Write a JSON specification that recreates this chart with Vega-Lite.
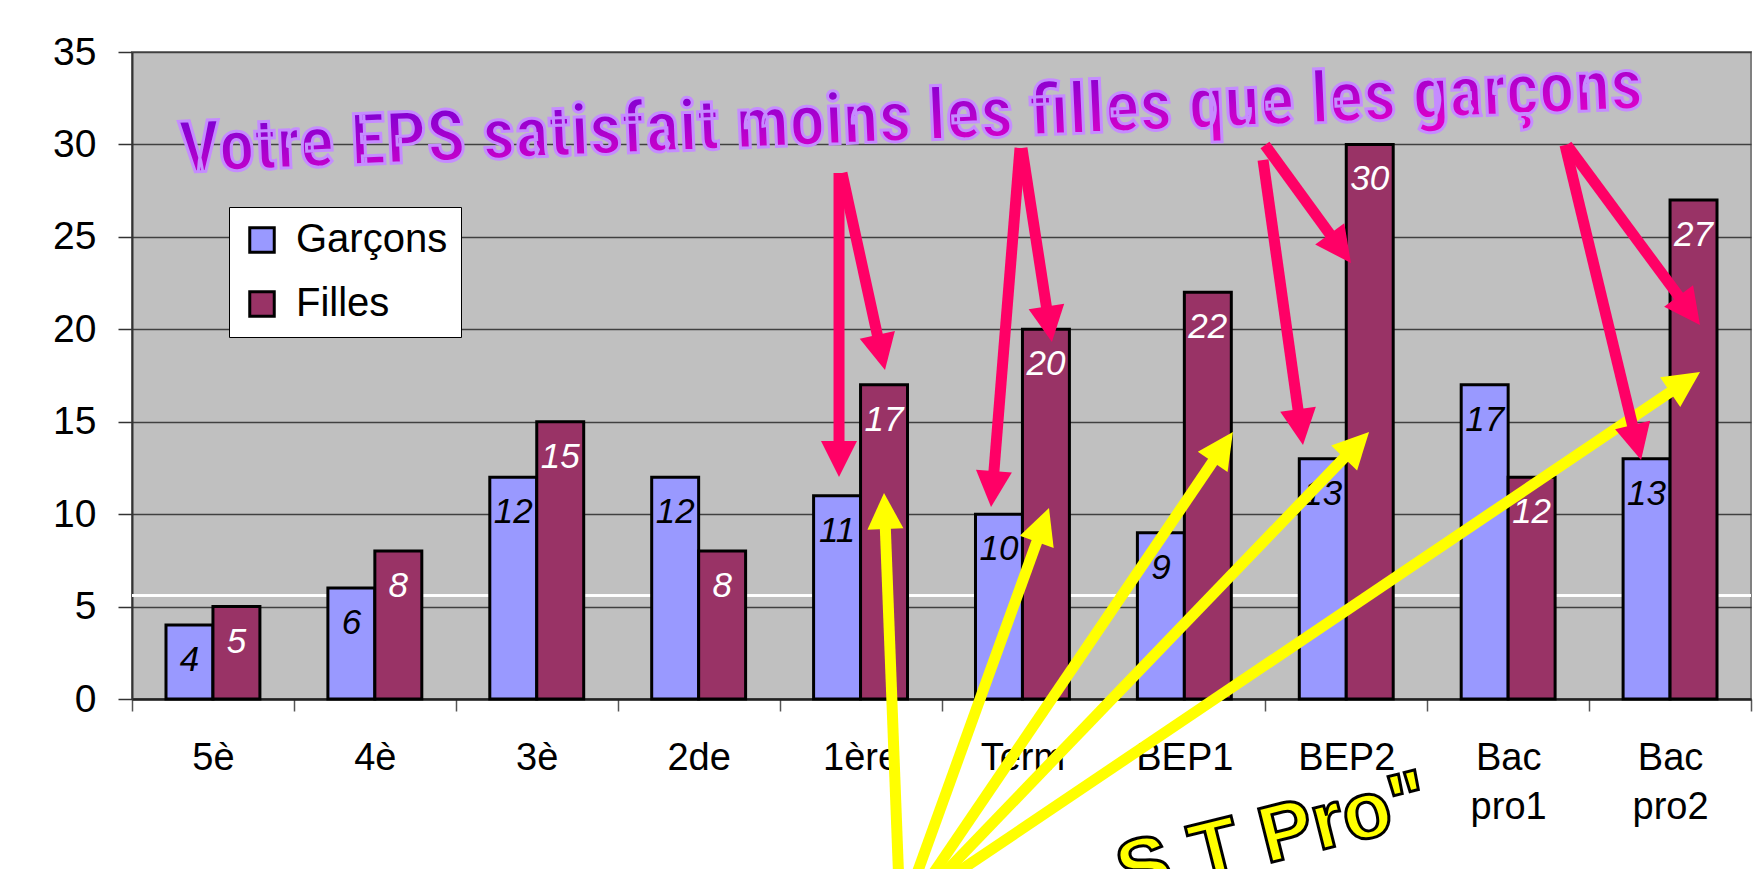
{
  "$schema": "https://vega.github.io/schema/vega-lite/v6.json",
  "width": 1619,
  "height": 647,
  "autosize": {"type": "none"},
  "padding": {"left": 132, "top": 52, "right": 7, "bottom": 170},
  "background": "#ffffff",
  "config": {
    "font": "Liberation Sans",
    "view": {"fill": "#c0c0c0", "stroke": "#808080", "strokeWidth": 2}
  },
  "datasets": {
    "bars": [
      {"niveau": "5è", "sexe": "Garçons", "n": 4}, {"niveau": "5è", "sexe": "Filles", "n": 5},
      {"niveau": "4è", "sexe": "Garçons", "n": 6}, {"niveau": "4è", "sexe": "Filles", "n": 8},
      {"niveau": "3è", "sexe": "Garçons", "n": 12}, {"niveau": "3è", "sexe": "Filles", "n": 15},
      {"niveau": "2de", "sexe": "Garçons", "n": 12}, {"niveau": "2de", "sexe": "Filles", "n": 8},
      {"niveau": "1ère", "sexe": "Garçons", "n": 11}, {"niveau": "1ère", "sexe": "Filles", "n": 17},
      {"niveau": "Term", "sexe": "Garçons", "n": 10}, {"niveau": "Term", "sexe": "Filles", "n": 20},
      {"niveau": "BEP1", "sexe": "Garçons", "n": 9}, {"niveau": "BEP1", "sexe": "Filles", "n": 22},
      {"niveau": "BEP2", "sexe": "Garçons", "n": 13}, {"niveau": "BEP2", "sexe": "Filles", "n": 30},
      {"niveau": "Bac pro1", "sexe": "Garçons", "n": 17}, {"niveau": "Bac pro1", "sexe": "Filles", "n": 12},
      {"niveau": "Bac pro2", "sexe": "Garçons", "n": 13}, {"niveau": "Bac pro2", "sexe": "Filles", "n": 27}
    ],
    "arrows": [
      {"kind": "jaune", "x1": 4.750, "y1": -13.037, "xe": 4.650, "ye": 9.953, "tx": 4.645, "ty": 11.144, "angle": -2.2},
      {"kind": "jaune", "x1": 4.700, "y1": -13.037, "xe": 5.618, "ye": 9.212, "tx": 5.664, "ty": 10.332, "angle": 19.9},
      {"kind": "jaune", "x1": 4.670, "y1": -13.037, "xe": 6.724, "ye": 13.459, "tx": 6.800, "ty": 14.443, "angle": 34.2},
      {"kind": "jaune", "x1": 4.620, "y1": -13.037, "xe": 7.546, "ye": 13.583, "tx": 7.641, "ty": 14.443, "angle": 43.9},
      {"kind": "jaune", "x1": 4.478, "y1": -13.037, "xe": 9.573, "ye": 17.024, "tx": 9.685, "ty": 17.689, "angle": 56.0},
      {"kind": "rouge", "x1": 4.367, "y1": 28.454, "xe": 4.367, "ye": 13.199, "tx": 4.367, "ty": 12.009, "angle": 180},
      {"kind": "rouge", "x1": 4.385, "y1": 28.454, "xe": 4.622, "ye": 18.960, "tx": 4.651, "ty": 17.797, "angle": 167.7},
      {"kind": "rouge", "x1": 5.485, "y1": 29.806, "xe": 5.317, "ye": 11.571, "tx": 5.306, "ty": 10.386, "angle": 184.6},
      {"kind": "rouge", "x1": 5.497, "y1": 29.806, "xe": 5.661, "ye": 20.486, "tx": 5.682, "ty": 19.312, "angle": 171.2},
      {"kind": "rouge", "x1": 6.986, "y1": 29.157, "xe": 7.214, "ye": 14.919, "tx": 7.233, "ty": 13.740, "angle": 172.0},
      {"kind": "rouge", "x1": 6.998, "y1": 29.969, "xe": 7.449, "ye": 24.548, "tx": 7.529, "ty": 23.585, "angle": 143.9},
      {"kind": "rouge", "x1": 8.851, "y1": 29.969, "xe": 9.288, "ye": 14.086, "tx": 9.321, "ty": 12.929, "angle": 166.4},
      {"kind": "rouge", "x1": 8.863, "y1": 29.969, "xe": 9.604, "ye": 21.189, "tx": 9.685, "ty": 20.232, "angle": 143.5}
    ],
    "notes": [
      {"role": "titre", "texte": "Votre EPS satisfait moins les filles que les garçons", "x": 4.81, "y": 31.4},
      {"role": "slogan", "texte": "S T Pro\"", "x": 8.036, "y": -6.654}
    ]
  },
  "layer": [
    {
      "data": {"name": "bars"},
      "layer": [
        {
          "mark": {"type": "rule", "color": "#ffffff", "strokeWidth": 1.5},
          "encoding": {"y": {"datum": 5.6, "type": "quantitative", "scale": {"domain": [0, 35], "nice": false}}}
        },
        {
          "mark": {"type": "bar", "stroke": "#000000", "strokeWidth": 3, "opacity": 1},
          "encoding": {
            "x": {
              "field": "niveau", "type": "nominal",
              "sort": ["5è", "4è", "3è", "2de", "1ère", "Term", "BEP1", "BEP2", "Bac pro1", "Bac pro2"],
              "scale": {"paddingInner": 0, "paddingOuter": 0},
              "axis": {
                "title": null, "labelAngle": 0, "labelFont": "Liberation Sans", "labelFontSize": 38,
                "labelColor": "#000000", "labelPadding": 28, "labelExpr": "split(datum.label, ' ')",
                "labelLineHeight": 49, "tickBand": "extent", "tickSize": 12, "tickColor": "#555555",
                "tickWidth": 1.5, "domainColor": "#222222", "domainWidth": 2.5, "grid": false
              }
            },
            "xOffset": {"field": "sexe", "type": "nominal", "scale": {"domain": ["Garçons", "Filles"], "paddingInner": 0, "paddingOuter": 0.724}},
            "y": {
              "field": "n", "type": "quantitative",
              "scale": {"domain": [0, 35], "nice": false},
              "axis": {
                "title": null, "values": [0, 5, 10, 15, 20, 25, 30, 35], "labelFont": "Liberation Sans",
                "labelFontSize": 39, "labelColor": "#000000", "labelPadding": 22, "tickSize": 14,
                "tickColor": "#333333", "tickWidth": 1.5, "domainColor": "#333333", "domainWidth": 2,
                "grid": true, "gridColor": "#404040", "gridWidth": 1.5
              }
            },
            "color": {
              "field": "sexe", "type": "nominal",
              "scale": {"domain": ["Garçons", "Filles"], "range": ["#9999ff", "#993366"]},
              "legend": {
                "title": null, "orient": "none", "legendX": 97, "legendY": 155,
                "fillColor": "#ffffff", "strokeColor": "#000000", "padding": 13,
                "labelFont": "Liberation Sans", "labelFontSize": 40, "labelColor": "#000000",
                "symbolType": "square", "symbolSize": 600, "symbolStrokeColor": "#000000",
                "symbolStrokeWidth": 3, "symbolOpacity": 1, "rowPadding": 24, "labelOffset": 14
              }
            }
          }
        },
        {
          "transform": [{"filter": "datum.sexe == 'Garçons'"}],
          "mark": {"type": "text", "font": "Liberation Sans", "fontSize": 35, "fontStyle": "italic", "color": "#000000", "align": "center", "baseline": "alphabetic", "dy": 46},
          "encoding": {
            "x": {"field": "niveau", "type": "nominal", "sort": ["5è", "4è", "3è", "2de", "1ère", "Term", "BEP1", "BEP2", "Bac pro1", "Bac pro2"]},
            "xOffset": {"field": "sexe", "type": "nominal", "scale": {"domain": ["Garçons", "Filles"], "paddingInner": 0, "paddingOuter": 0.724}},
            "y": {"field": "n", "type": "quantitative"},
            "text": {"field": "n", "type": "quantitative"}
          }
        },
        {
          "transform": [{"filter": "datum.sexe == 'Filles'"}],
          "mark": {"type": "text", "font": "Liberation Sans", "fontSize": 35, "fontStyle": "italic", "color": "#ffffff", "align": "center", "baseline": "alphabetic", "dy": 46},
          "encoding": {
            "x": {"field": "niveau", "type": "nominal", "sort": ["5è", "4è", "3è", "2de", "1ère", "Term", "BEP1", "BEP2", "Bac pro1", "Bac pro2"]},
            "xOffset": {"field": "sexe", "type": "nominal", "scale": {"domain": ["Garçons", "Filles"], "paddingInner": 0, "paddingOuter": 0.724}},
            "y": {"field": "n", "type": "quantitative"},
            "text": {"field": "n", "type": "quantitative"}
          }
        }
      ]
    },
    {
      "layer": [
        {
          "data": {"name": "notes"},
          "transform": [{"filter": "datum.role == 'titre'"}],
          "mark": {
            "type": "text", "font": "Roboto Condensed, DejaVu Sans Condensed, Liberation Sans", "fontWeight": "bold", "fontSize": 72,
            "align": "center", "baseline": "middle", "angle": -2.5,
            "fill": {"gradient": "linear", "x1": 0, "y1": 0, "x2": 0.3, "y2": 1, "stops": [{"offset": 0, "color": "#6c00d4"}, {"offset": 1, "color": "#de00c8"}]},
            "stroke": "#c58cff", "strokeWidth": 3
          },
          "encoding": {
            "x": {"field": "x", "type": "quantitative", "scale": {"domain": [0, 10], "nice": false, "zero": false}, "axis": null},
            "y": {"field": "y", "type": "quantitative", "scale": {"domain": [0, 35], "nice": false}, "axis": null},
            "text": {"field": "texte"}
          }
        },
        {
          "data": {"name": "arrows"},
          "mark": {"type": "rule", "strokeWidth": 11, "strokeCap": "butt"},
          "encoding": {
            "x": {"field": "x1", "type": "quantitative"},
            "y": {"field": "y1", "type": "quantitative"},
            "x2": {"field": "xe"},
            "y2": {"field": "ye"},
            "stroke": {"field": "kind", "type": "nominal", "scale": {"domain": ["jaune", "rouge"], "range": ["#ffff00", "#ff0066"]}, "legend": null}
          }
        },
        {
          "data": {"name": "arrows"},
          "mark": {"type": "point", "shape": "M0,0L0.5,1L-0.5,1Z", "filled": true, "size": 5184, "strokeWidth": 0, "opacity": 1},
          "encoding": {
            "x": {"field": "tx", "type": "quantitative"},
            "y": {"field": "ty", "type": "quantitative"},
            "angle": {"field": "angle", "type": "quantitative", "scale": null},
            "fill": {"field": "kind", "type": "nominal", "scale": {"domain": ["jaune", "rouge"], "range": ["#ffff00", "#ff0066"]}, "legend": null}
          }
        },
        {
          "data": {"name": "notes"},
          "transform": [{"filter": "datum.role == 'slogan'"}],
          "mark": {
            "type": "text", "font": "Liberation Sans", "fontWeight": "bold", "fontSize": 80,
            "align": "right", "baseline": "alphabetic", "angle": -14,
            "fill": "#ffff00", "stroke": "#000000", "strokeWidth": 3
          },
          "encoding": {
            "x": {"field": "x", "type": "quantitative"},
            "y": {"field": "y", "type": "quantitative"},
            "text": {"field": "texte"}
          }
        }
      ]
    }
  ],
  "resolve": {
    "scale": {"x": "independent", "y": "independent"},
    "axis": {"x": "independent", "y": "independent"}
  }
}
